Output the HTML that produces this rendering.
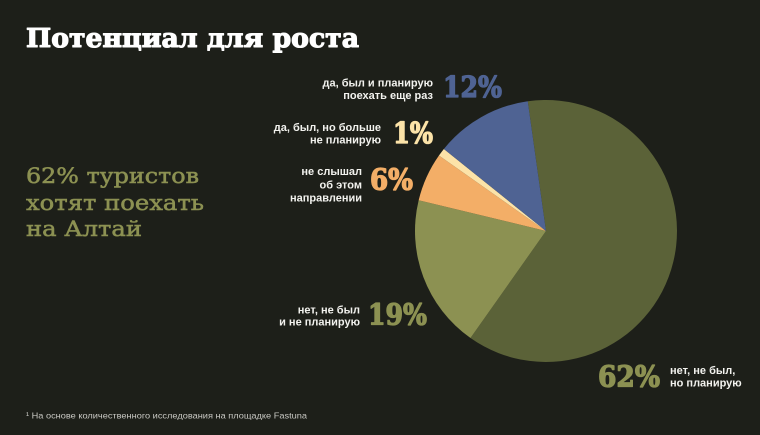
<!DOCTYPE html>
<html>
<head>
<meta charset="utf-8">
<style>
html,body{margin:0;padding:0;background:#1d1f19;}
svg{display:block;}
.lbl{font-family:"Liberation Sans","DejaVu Sans",sans-serif;font-weight:bold;font-size:11px;fill:#f2f2ee;}
.big{font-family:"DejaVu Serif","Liberation Serif",serif;font-weight:bold;font-size:29px;stroke-width:1.3;stroke-linejoin:round;}
</style>
</head>
<body>
<svg width="760" height="435" viewBox="0 0 760 435" xmlns="http://www.w3.org/2000/svg">
  <rect width="760" height="435" fill="#1d1f19"/>

  <!-- Title -->
  <text x="26" y="47" font-family="'DejaVu Serif','Liberation Serif',serif" font-weight="bold" font-size="26" fill="#ffffff" stroke="#ffffff" stroke-width="1.1" stroke-linejoin="round" textLength="333" lengthAdjust="spacingAndGlyphs">Потенциал для роста</text>

  <!-- Left text -->
  <g font-family="'DejaVu Serif','Liberation Serif',serif" font-size="21.5" fill="#8c9152" stroke="#8c9152" stroke-width="0.55">
    <text x="26" y="183" textLength="173" lengthAdjust="spacingAndGlyphs">62% туристов</text>
    <text x="26" y="210" textLength="178" lengthAdjust="spacingAndGlyphs">хотят поехать</text>
    <text x="26" y="236" textLength="116" lengthAdjust="spacingAndGlyphs">на Алтай</text>
  </g>

  <!-- Pie -->
  <g>
    <path d="M546 231 L527.77 101.27 A131 131 0 1 1 470.49 338.05 Z" fill="#5b6238"/>
    <path d="M546 231 L470.49 338.05 A131 131 0 0 1 418.67 200.20 Z" fill="#8c9152"/>
    <path d="M546 231 L418.67 200.20 A131 131 0 0 1 438.95 155.49 Z" fill="#f3ae67"/>
    <path d="M546 231 L438.95 155.49 A131 131 0 0 1 443.88 148.94 Z" fill="#fce3a8"/>
    <path d="M546 231 L443.88 148.94 A131 131 0 0 1 527.77 101.27 Z" fill="#4f6393"/>
  </g>

  <!-- Labels -->
  <text class="lbl" x="433" y="86.5" text-anchor="end">да, был и планирую</text>
  <text class="lbl" x="433" y="99" text-anchor="end">поехать еще раз</text>
  <text class="big" x="443" y="97" fill="#4f6393" stroke="#4f6393" textLength="59" lengthAdjust="spacingAndGlyphs">12%</text>

  <text class="lbl" x="381" y="131" text-anchor="end">да, был, но больше</text>
  <text class="lbl" x="381" y="143.5" text-anchor="end">не планирую</text>
  <text class="big" x="393" y="143" fill="#fce3a8" stroke="#fce3a8" textLength="40" lengthAdjust="spacingAndGlyphs">1%</text>

  <text class="lbl" x="362" y="175" text-anchor="end">не слышал</text>
  <text class="lbl" x="362" y="188.3" text-anchor="end">об этом</text>
  <text class="lbl" x="362" y="201.7" text-anchor="end">направлении</text>
  <text class="big" x="370" y="189.5" fill="#f3ae67" stroke="#f3ae67" textLength="43" lengthAdjust="spacingAndGlyphs">6%</text>

  <text class="lbl" x="360" y="313.3" text-anchor="end">нет, не был</text>
  <text class="lbl" x="360" y="325.5" text-anchor="end">и не планирую</text>
  <text class="big" x="368" y="324.5" fill="#8c9152" stroke="#8c9152" textLength="59" lengthAdjust="spacingAndGlyphs">19%</text>

  <text class="big" x="598" y="386.5" fill="#8c9152" stroke="#8c9152" textLength="62" lengthAdjust="spacingAndGlyphs">62%</text>
  <text class="lbl" x="670" y="374">нет, не был,</text>
  <text class="lbl" x="670" y="386.5">но планирую</text>

  <!-- Footnote -->
  <text x="26" y="418.5" font-family="'Liberation Sans','DejaVu Sans',sans-serif" font-size="8.5" fill="#c9c9c4" textLength="281" lengthAdjust="spacingAndGlyphs">¹ На основе количественного исследования на площадке Fastuna</text>
</svg>
</body>
</html>
